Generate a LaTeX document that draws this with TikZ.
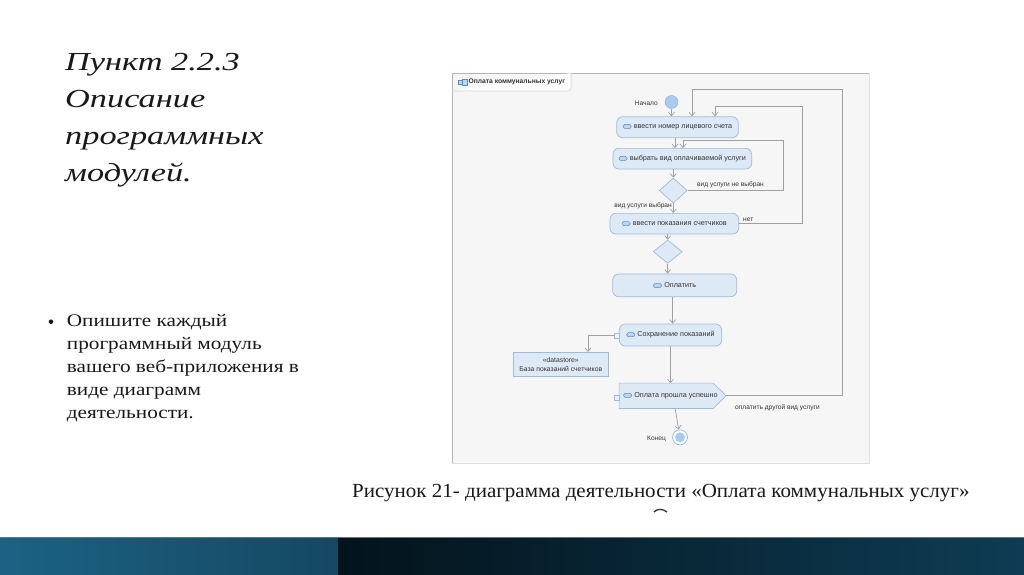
\documentclass[tikz,border=0pt]{standalone}
\usepackage{fontspec}
\setmainfont{Liberation Serif}
\newfontfamily\titlefont[FakeStretch=1.32]{Liberation Serif}
\newfontfamily\bodyfont[FakeStretch=1.2]{Liberation Serif}
\newfontfamily\capfont[FakeStretch=1.05]{Liberation Serif}
\newfontfamily\diafont{Liberation Sans}
\usetikzlibrary{arrows.meta,shapes.geometric,calc}
\definecolor{actfill}{HTML}{DEE9F6}
\definecolor{actdraw}{HTML}{9FBAD8}
\definecolor{lnc}{HTML}{A0A0A0}
\definecolor{txtc}{HTML}{333333}
\definecolor{framebg}{HTML}{F6F6F6}
\definecolor{framedr}{HTML}{B4B4B4}
\definecolor{startc}{HTML}{A8CBF0}
\definecolor{iconc}{HTML}{5A8CC0}
\definecolor{iconf}{HTML}{BCD6F0}
\definecolor{bandA}{HTML}{1B6284}
\definecolor{bandB}{HTML}{154862}
\definecolor{bandC}{HTML}{03131B}
\definecolor{bandD}{HTML}{0E3C54}
\newcommand\acticon{\tikz[baseline=0pt]\draw[draw=iconc,fill=iconf,rounded corners=1.5pt,line width=0.5pt] (0pt,0.2pt) rectangle (8pt,4.2pt);}
\tikzset{
  act/.style={draw=actdraw, fill=actfill, rounded corners=6pt, line width=0.7pt, inner sep=0pt,
    font=\diafont\fontsize{7.2}{8}\selectfont, text=txtc},
  dec/.style={diamond, draw=actdraw, fill=actfill, line width=0.7pt, inner sep=0pt},
  flow/.style={draw=lnc, line width=0.7pt, -{Straight Barb[length=3.5pt,width=6pt]}},
  lab/.style={font=\diafont\fontsize{6.6}{8}\selectfont, text=txtc, inner sep=0pt},
  pinbox/.style={draw=actdraw, fill=actfill!60!white, line width=0.6pt, minimum size=5pt, inner sep=0pt},
  ttl/.style={anchor=base west, inner sep=0pt, font=\titlefont\itshape\fontsize{26}{26}\selectfont, text=black!90},
  bl/.style={anchor=base west, inner sep=0pt, font=\bodyfont\fontsize{17.7}{18}\selectfont, text=black!90}
}
\begin{document}
\begin{tikzpicture}[x=1pt,y=-1pt]
\useasboundingbox[fill=white] (0,0) rectangle (1024,574);
% bottom band
\shade[left color=bandA, right color=bandB] (0,537) rectangle (338,574);
\shade[left color=bandC, right color=bandD] (338,537) rectangle (1024,574);
\draw[color=black!55, line width=0.6pt] (0,537) -- (1024,537);
% title
\node[ttl] (t1) at (65,70.7) {Пункт 2.2.3};
\node[ttl] (t2) at (65,107.5) {Описание};
\node[ttl] (t3) at (65,144.3) {программных};
\node[ttl] (t4) at (65,181.5) {модулей.};
% bullet text
\node[circle, fill=black!90, minimum size=4.6pt, inner sep=0pt] (dot) at (51,321.7) {};
\node[bl] (b1) at (66.7,326.7) {Опишите каждый};
\node[bl] (b2) at (66.7,349.3) {программный модуль};
\node[bl] (b3) at (66.7,372.3) {вашего веб-приложения в};
\node[bl] (b4) at (66.7,395) {виде диаграмм};
\node[bl] (b5) at (66.7,418) {деятельности.};
% caption
\node[anchor=base west, inner sep=0pt, font=\capfont\fontsize{20}{20}\selectfont, text=black!90] (cap) at (352,497) {Рисунок 21- диаграмма деятельности «Оплата коммунальных услуг»};
\draw[line width=1.3pt, black!80] (654,512) .. controls (657,508.5) and (663,508.5) .. (667,512);
% frame
\fill[framebg] (452,73) rectangle (869,463);
\draw[draw=black!12, line width=0.8pt] (869,73) -- (869,463) -- (452,463);
\draw[draw=framedr, line width=0.8pt] (452,463) -- (452,73) -- (869,73);
\draw[draw=black!18, fill=white, line width=0.6pt] (452,91) [rounded corners=3pt] -- (571,91) -- (571,73);
\draw[draw=iconc, fill=iconf, line width=0.4pt] (458,80) rectangle (462,84);
\draw[draw=iconc, fill=iconf, line width=0.4pt] (462.5,79) rectangle (467,85);
\node[anchor=west, inner sep=0pt, font=\diafont\bfseries\fontsize{6.7}{7}\selectfont, text=txtc] (tab) at (468.5,82) {Оплата коммунальных услуг};
% nodes
\node[circle, fill=startc, draw=startc!85!black, line width=0.4pt, minimum size=13pt, inner sep=0pt] (start) at (671.5,102) {};
\node[lab, anchor=east] (lstart) at (658,103) {Начало};
\node[act, minimum width=121.6pt, minimum height=21pt] (a1) at (677.5,127.2) {\acticon\hspace{2.5pt}ввести номер лицевого счета};
\node[act, minimum width=138.7pt, minimum height=20.7pt] (a2) at (682.3,158.7) {\acticon\hspace{2.5pt}выбрать вид оплачиваемой услуги};
\node[dec, minimum width=28pt, minimum height=25pt] (d1) at (673.3,190.5) {};
\node[act, minimum width=128.7pt, minimum height=20.7pt] (a3) at (674.3,223.7) {\acticon\hspace{2.5pt}ввести показания счетчиков};
\node[dec, minimum width=29pt, minimum height=23.3pt] (d2) at (667.7,251.7) {};
\node[act, minimum width=124pt, minimum height=22.7pt] (a4) at (674.7,285.3) {\acticon\hspace{2.5pt}Оплатить};
\node[act, minimum width=102.4pt, minimum height=22pt] (a5) at (670.5,335) {\acticon\hspace{2.5pt}Сохранение показаний};
\node[pinbox] (p5) at (616.5,335.5) {};
\node[draw=actdraw, fill=actfill, line width=0.7pt, minimum width=95pt, minimum height=24.4pt, inner sep=0pt, align=center,
  font=\diafont\fontsize{6.8}{8.3}\selectfont, text=txtc] (ds) at (560.8,364.5) {«datastore»\\База показаний счетчиков};
\node[minimum width=106.7pt, minimum height=25pt, inner sep=0pt] (send) at (672.65,395.8) {};
\draw[draw=actdraw, fill=actfill, line width=0.7pt] (send.north west) -- ([xshift=-13pt]send.north east) -- (send.east) -- ([xshift=-13pt]send.south east) -- (send.south west) -- cycle;
\node[inner sep=0pt, font=\diafont\fontsize{7.2}{8}\selectfont, text=txtc] (sendt) at (670.5,395.8) {\acticon\hspace{2.5pt}Оплата прошла успешно};
\node[pinbox] (ps) at (616.5,398) {};
\node[circle, draw=startc!90!black, fill=white, line width=0.7pt, minimum size=15pt, inner sep=0pt] (end) at (680,437.3) {};
\node[circle, fill=startc, minimum size=10pt, inner sep=0pt] (endin) at (end) {};
\node[lab, anchor=east] (lend) at (666,439) {Конец};
% labels
\node[lab, anchor=west] (lnotsel) at (697,184.5) {вид услуги не выбран};
\node[lab, anchor=east] (lsel) at (672,206) {вид услуги выбран};
\node[lab, anchor=west] (lno) at (743,220) {нет};
\node[lab, anchor=west] (lother) at (735,407.5) {оплатить другой вид услуги};
% loop corner coordinates
\coordinate (l1) at (783,140);
\coordinate (l2) at (802.7,106);
\coordinate (l3) at (842.7,89);
% connectors
\draw[flow] (start.south) -- (start.south |- a1.north);
\draw[flow] ([xshift=-2.5pt]a1.south) -- ([xshift=-2.5pt]a1.south |- a2.north);
\draw[flow] (a2.south -| d1) -- (d1.north);
\draw[flow] (d1.south) -- (d1.south |- a3.north);
\draw[flow] (d1.east) -| (l1) -| ([xshift=0.7pt]a2.north);
\draw[flow] (a3.east) -| (l2) -| ([xshift=37.5pt]a1.north);
\draw[flow] (a3.south -| d2) -- (d2.north);
\draw[flow] (d2.south) -- (d2.south |- a4.north);
\draw[flow] ([xshift=-2pt]a4.south) -- ([xshift=-2pt]a4.south |- a5.north);
\draw[flow] (p5.west) -| ([xshift=27.2pt]ds.north);
\draw[flow] (a5.south) -- (a5.south |- send.north);
\draw[flow] (send.east) -| (l3) -| ([xshift=14.5pt]a1.north);
\draw[flow] ([xshift=2.5pt]send.south) -- (end);
\end{tikzpicture}
\end{document}
